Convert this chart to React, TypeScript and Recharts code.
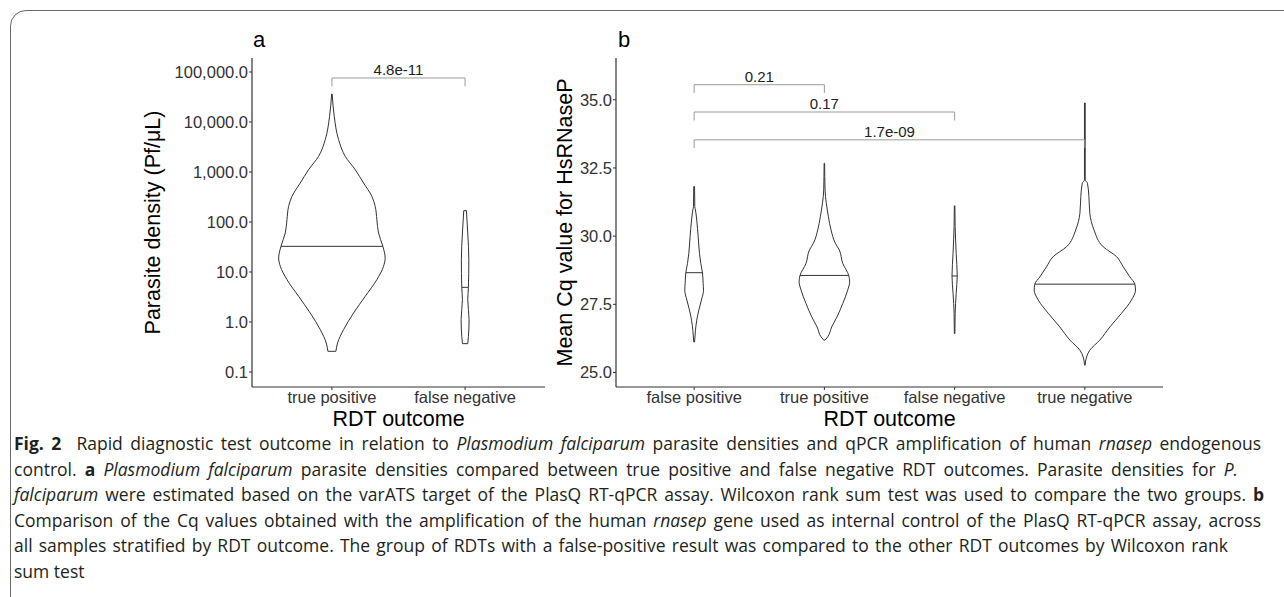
import React from 'react';
import { ComposedChart, Line, XAxis, YAxis, ReferenceDot } from 'recharts';

const outcomesA = ['true positive', 'false negative'];
const outcomesB = ['false positive', 'true positive', 'false negative', 'true negative'];

const densityTicks = [0.1, 1, 10, 100, 1000, 10000, 100000];
const densityTickLabels = ['0.1', '1.0', '10.0', '100.0', '1,000.0', '10,000.0', '100,000.0'];
const cqTicks = [25, 27.5, 30, 32.5, 35];
const cqTickLabels = ['25.0', '27.5', '30.0', '32.5', '35.0'];

// violin outlines: [value, half width in category units]
const densityTruePositive: [number, number][] = [
  [0.259, 0.03], [0.38, 0.0425], [0.703, 0.0875], [1.51, 0.1625], [3.26, 0.25],
  [7.03, 0.3375], [13, 0.3875], [19.1, 0.4], [32.6, 0.3825], [60.3, 0.35],
  [111, 0.3375], [206, 0.325], [326, 0.3], [603, 0.2375], [1114, 0.175],
  [2056, 0.1], [4440, 0.05], [13000, 0.0175], [36300, 0.002],
];
const densityFalseNegative: [number, number][] = [
  [0.369, 0.02], [0.517, 0.025], [1.11, 0.03], [2.8, 0.02], [4.93, 0.025],
  [17.6, 0.028], [60.3, 0.02], [169, 0.01],
];
const densityMedians: [number, number][] = [[32.6, 0.3825], [4.93, 0.025]];

const cqFalsePositive: [number, number][] = [
  [26.12, 0.003], [26.55, 0.01], [26.92, 0.02], [27.29, 0.036], [27.66, 0.056],
  [28.02, 0.072], [28.27, 0.069], [28.66, 0.064], [29.0, 0.051], [29.37, 0.041],
  [29.98, 0.031], [30.59, 0.02], [30.96, 0.01], [31.08, 0.005], [31.82, 0.003],
];
const cqTruePositive: [number, number][] = [
  [26.19, 0.005], [26.31, 0.026], [26.67, 0.056], [27.04, 0.097], [27.53, 0.141],
  [28.02, 0.179], [28.33, 0.194], [28.56, 0.187], [29.0, 0.141], [29.49, 0.115],
  [29.74, 0.084], [30.23, 0.051], [30.71, 0.031], [31.2, 0.015], [31.69, 0.005],
  [32.67, 0.002],
];
const cqFalseNegative: [number, number][] = [
  [26.43, 0.002], [27.17, 0.004], [27.9, 0.012], [28.54, 0.02], [29.37, 0.012],
  [30.35, 0.004], [31.11, 0.002],
];
const cqTrueNegative: [number, number][] = [
  [25.27, 0.002], [25.57, 0.013], [25.82, 0.038], [26.19, 0.115], [26.67, 0.192],
  [27.17, 0.281], [27.66, 0.358], [28.02, 0.389], [28.24, 0.384], [28.51, 0.345],
  [28.88, 0.294], [29.25, 0.243], [29.61, 0.141], [30.23, 0.07], [30.84, 0.038],
  [31.45, 0.031], [31.94, 0.02], [32.06, 0.003], [34.88, 0.003],
];
const cqMedians: [number, number][] = [[28.66, 0.064], [28.56, 0.187], [28.54, 0.02], [28.24, 0.384]];

// significance brackets: [from, to, top, foot, label]
const densityBrackets: [number, number, number, number, string][] = [[1, 2, 75900, 51700, '4.8e-11']];
const cqBrackets: [number, number, number, number, string][] = [
  [1, 2, 35.55, 35.25, '0.21'],
  [1, 3, 34.55, 34.24, '0.17'],
  [1, 4, 33.53, 33.23, '1.7e-09'],
];

const FONT = '"Liberation Sans", Arial, sans-serif';
const INK = '#333333';

const lineProps = {
  dataKey: 'y',
  dot: false,
  activeDot: false,
  isAnimationActive: false,
  legendType: 'none' as const,
};

function violin(pos: number, profile: [number, number][], median: [number, number], key: string) {
  const left = profile.map(([y, w]) => ({ x: pos - w, y }));
  const right = profile.map(([y, w]) => ({ x: pos + w, y }));
  const n = profile.length - 1;
  return [
    <Line key={key + 'l'} {...lineProps} data={left} type="monotoneY" stroke={INK} strokeWidth={1} />,
    <Line key={key + 'r'} {...lineProps} data={right} type="monotoneY" stroke={INK} strokeWidth={1} />,
    <Line key={key + 'b'} {...lineProps} data={[left[0], right[0]]} type="linear" stroke={INK} strokeWidth={1} />,
    <Line key={key + 't'} {...lineProps} data={[left[n], right[n]]} type="linear" stroke={INK} strokeWidth={1} />,
    <Line
      key={key + 'm'}
      {...lineProps}
      data={[{ x: pos - median[1], y: median[0] }, { x: pos + median[1], y: median[0] }]}
      type="linear"
      stroke={INK}
      strokeWidth={1}
    />,
  ];
}

function bracket([from, to, top, foot, label]: [number, number, number, number, string], key: string) {
  return [
    <Line
      key={key}
      {...lineProps}
      data={[{ x: from, y: foot }, { x: from, y: top }, { x: to, y: top }, { x: to, y: foot }]}
      type="linear"
      stroke="#9a9a9a"
      strokeWidth={1}
    />,
    <ReferenceDot
      key={key + 'lab'}
      x={(from + to) / 2}
      y={top}
      r={0}
      fill="none"
      stroke="none"
      label={{ value: label, position: 'top', offset: 3, fontSize: 15, fill: '#222', fontFamily: FONT }}
    />,
  ];
}

const tickStyle = { fontSize: 16.5, fill: INK, fontFamily: FONT };
const axisLine = { stroke: INK, strokeWidth: 1.2 };

function PanelA() {
  const violins = [densityTruePositive, densityFalseNegative];
  return (
    <ComposedChart width={560} height={430} margin={{ top: 58, right: 15, bottom: 13, left: 0 }}>
      <XAxis
        type="number"
        dataKey="x"
        domain={[0.4, 2.6]}
        allowDataOverflow
        ticks={[1, 2]}
        tickFormatter={(v: number) => outcomesA[v - 1]}
        height={30}
        tickSize={3}
        tickMargin={1}
        tick={tickStyle}
        axisLine={axisLine}
        tickLine={{ stroke: INK }}
      />
      <YAxis
        type="number"
        scale="log"
        domain={[0.0501, 190546]}
        allowDataOverflow
        ticks={densityTicks}
        tickFormatter={(v: number) => densityTickLabels[densityTicks.indexOf(v)]}
        width={252}
        tickSize={3}
        tickMargin={1}
        tick={tickStyle}
        axisLine={axisLine}
        tickLine={{ stroke: INK }}
      />
      {violins.flatMap((p, i) => violin(i + 1, p, densityMedians[i], 'va' + i))}
      {densityBrackets.flatMap((b, i) => bracket(b, 'ba' + i))}
    </ComposedChart>
  );
}

function PanelB() {
  const violins = [cqFalsePositive, cqTruePositive, cqFalseNegative, cqTrueNegative];
  return (
    <ComposedChart width={673} height={430} margin={{ top: 58, right: 10, bottom: 13, left: 0 }}>
      <XAxis
        type="number"
        dataKey="x"
        domain={[0.4, 4.6]}
        allowDataOverflow
        ticks={[1, 2, 3, 4]}
        tickFormatter={(v: number) => outcomesB[v - 1]}
        height={30}
        tickSize={3}
        tickMargin={1}
        tick={tickStyle}
        axisLine={axisLine}
        tickLine={{ stroke: INK }}
      />
      <YAxis
        type="number"
        domain={[24.47, 36.53]}
        allowDataOverflow
        ticks={cqTicks}
        tickFormatter={(v: number) => cqTickLabels[cqTicks.indexOf(v)]}
        width={116}
        tickSize={3}
        tickMargin={1}
        tick={tickStyle}
        axisLine={axisLine}
        tickLine={{ stroke: INK }}
      />
      {violins.flatMap((p, i) => violin(i + 1, p, cqMedians[i], 'vb' + i))}
      {cqBrackets.flatMap((b, i) => bracket(b, 'bb' + i))}
    </ComposedChart>
  );
}

// caption, one entry per printed line, with the width each line runs to
const captionLines: [React.ReactNode, number][] = [
  [
    <>
      <b>Fig. 2</b>&nbsp; Rapid diagnostic test outcome in relation to <i>Plasmodium falciparum</i> parasite densities
      and qPCR amplification of human <i>rnasep</i> endogenous
    </>,
    1247,
  ],
  [
    <>
      control. <b>a</b> <i>Plasmodium falciparum</i> parasite densities compared between true positive and false
      negative RDT outcomes. Parasite densities for <i>P.</i>
    </>,
    1224,
  ],
  [
    <>
      <i>falciparum</i> were estimated based on the varATS target of the PlasQ RT-qPCR assay. Wilcoxon rank sum test
      was used to compare the two groups. <b>b</b>
    </>,
    1250,
  ],
  [
    <>
      Comparison of the Cq values obtained with the amplification of the human <i>rnasep</i> gene used as internal
      control of the PlasQ RT-qPCR assay, across
    </>,
    1247,
  ],
  [
    <>
      all samples stratified by RDT outcome. The group of RDTs with a false-positive result was compared to the other
      RDT outcomes by Wilcoxon rank
    </>,
    1214,
  ],
  [<>sum test</>, 0],
];

export default function App() {
  return (
    <div
      style={{
        position: 'absolute',
        left: 0,
        top: 0,
        width: 1284,
        height: 597,
        overflow: 'hidden',
        background: '#fff',
        fontFamily: FONT,
      }}
    >
      <div
        style={{
          position: 'absolute',
          left: 10,
          top: 10,
          width: 1300,
          height: 640,
          border: '1px solid #6a6a6a',
          borderTopLeftRadius: 16,
        }}
      />
      <div style={{ position: 'absolute', left: 0, top: 0 }}>
        <PanelA />
      </div>
      <div style={{ position: 'absolute', left: 500, top: 0 }}>
        <PanelB />
      </div>
      <svg
        width={1284}
        height={440}
        style={{ position: 'absolute', left: 0, top: 0, pointerEvents: 'none' }}
        fontFamily={FONT}
      >
        <text x={253} y={47} fontSize={22} fill="#000">a</text>
        <text x={618} y={47} fontSize={22} fill="#000">b</text>
        <text x={160} y={222.5} fontSize={21.5} textAnchor="middle" transform="rotate(-90 160 222.5)" fill="#000">
          Parasite density (Pf/μL)
        </text>
        <text x={571.5} y={222.5} fontSize={21.5} textAnchor="middle" transform="rotate(-90 571.5 222.5)" fill="#000">
          Mean Cq value for HsRNaseP
        </text>
        <text x={398.5} y={425.5} fontSize={21.5} textAnchor="middle" fill="#000">RDT outcome</text>
        <text x={889.5} y={425.5} fontSize={21.5} textAnchor="middle" fill="#000">RDT outcome</text>
      </svg>
      <div
        style={{
          position: 'absolute',
          left: 14,
          top: 431,
          fontFamily: '"Open Sans", "Noto Sans", sans-serif',
          fontSize: 17.5,
          lineHeight: '25.5px',
          color: '#231f20',
        }}
      >
        {captionLines.map(([l, w], i) => (
          <div
            key={i}
            style={
              w > 0
                ? { width: w, whiteSpace: 'nowrap', textAlign: 'justify', textAlignLast: 'justify' }
                : { whiteSpace: 'nowrap' }
            }
          >
            {l}
          </div>
        ))}
      </div>
    </div>
  );
}
